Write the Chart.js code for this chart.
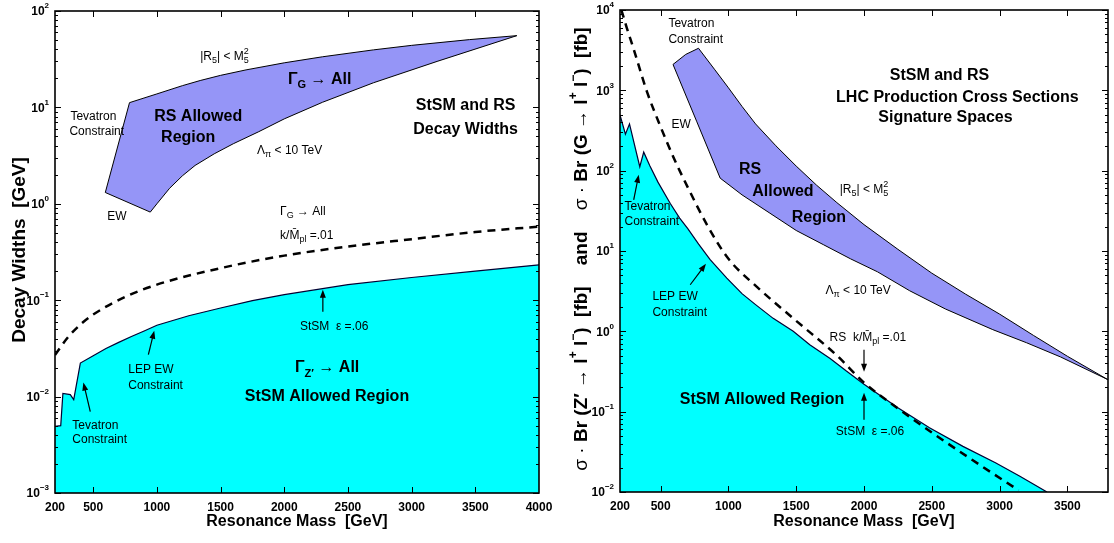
<!DOCTYPE html>
<html>
<head>
<meta charset="utf-8">
<script src="https://cdn.jsdelivr.net/npm/chart.js@4.4.1/dist/chart.umd.min.js"></script>
<style>
    html, body { margin: 0; padding: 0; background: #fff; }
    #wrap { position: relative; width: 1114px; height: 543px; }
    .panel { position: absolute; top: 0; }
</style>
</head>
<body>
<div id="wrap">
    <canvas id="widthChart" class="panel" style="left:0" width="557" height="543"></canvas>
    <canvas id="xsecChart" class="panel" style="left:557px" width="557" height="543"></canvas>
</div>
<script>
// ---- left panel: decay widths ----
const widthTicksX = [200, 500, 1000, 1500, 2000, 2500, 3000, 3500, 4000];
const widthDecades = [-3, -2, -1, 0, 1, 2];

// StSM Z' width, eps = .06 (upper edge of the cyan region)
const stsmWidthMass = [200, 245, 262, 320, 347, 399, 500, 600, 700, 800, 900, 1000, 1250, 1500, 1750, 2000, 2500, 3000, 3500, 4000];
const stsmWidth = [0.0049, 0.0050, 0.0108, 0.0105, 0.0093, 0.0223, 0.0265, 0.0315, 0.0365, 0.042, 0.048, 0.055,
    0.069, 0.083, 0.099, 0.114, 0.145, 0.172, 0.2, 0.233];

// RS graviton width, k/Mpl = .01 (dashed)
const rsWidthMass = [200, 300, 400, 500, 750, 1000, 1500, 2000, 2500, 3000, 3500, 4000];
const rsWidth = [0.027, 0.041, 0.056, 0.071, 0.108, 0.145, 0.215, 0.29, 0.36, 0.43, 0.51, 0.58];

// RS allowed region outline (closed): Tevatron edge, |R5| < M5^2 edge, Lambda_pi edge, EW edge
const rsWidthRegionMass = [595, 785, 1000, 1200, 1340, 1500, 1700, 2000, 2300, 2700, 3000, 3455, 3826,
    3200, 2700, 2300, 2000, 1800, 1600, 1450, 1300, 1200, 1100, 1000, 948, 595];
const rsWidthRegion = [1.31, 11.2, 13.8, 16.8, 19.0, 21.5, 24.5, 29, 33.5, 39.5, 44, 50.5, 55.5,
    30, 18, 11.3, 7.6, 5.6, 4.2, 3.3, 2.5, 1.95, 1.45, 1.0, 0.82, 1.31];

// ---- right panel: LHC cross sections ----
const xsecTicksX = [200, 500, 1000, 1500, 2000, 2500, 3000, 3500];
const xsecDecades = [-2, -1, 0, 1, 2, 3, 4];

const stsmXsecMass = [200, 240, 270, 346, 375, 420, 480, 571, 640, 700, 780, 865, 988, 1100, 1200, 1330, 1478,
    1600, 1750, 1870, 2000, 2250, 2483, 2730, 2973, 3150, 3350];
const stsmXsec = [494, 285, 382, 112, 170, 115, 72, 39, 25.7, 19, 12.2, 7.8, 4.6, 2.95, 2.15, 1.45, 1.0,
    0.68, 0.46, 0.32, 0.22, 0.112, 0.063, 0.037, 0.023, 0.0157, 0.0100];

const rsXsecMass = [210, 250, 300, 400, 500, 600, 700, 850, 1000, 1200, 1500, 1800, 2000, 2250, 2500, 2800, 3140];
const rsXsec = [10000, 6000, 3300, 950, 350, 140, 62, 20, 8, 3.7, 1.35, 0.5, 0.23, 0.11, 0.055, 0.025, 0.0105];

const rsXsecRegionMass = [591, 685, 779, 900, 1000, 1100, 1200, 1350, 1500, 1650, 1800, 2000, 2250, 2500, 2750, 3000, 3250, 3500, 3800,
    3450, 3200, 2950, 2600, 2337, 2100, 1900, 1700, 1500, 1300, 1100, 939, 765, 591];
const rsXsecRegion = [2100, 2800, 3340, 1800, 1075, 631, 382, 204, 114, 66, 40, 21.3, 10.5, 5.3, 2.9, 1.64, 0.89, 0.49, 0.25,
    0.48, 0.72, 1.05, 1.9, 3.2, 5.5, 8, 12, 18, 30, 50, 80.7, 413, 2100];

const FONT = '"Liberation Sans", Arial, Helvetica, sans-serif';
const NOTE = '12px ' + FONT;
const NOTE_S = '9px ' + FONT;
const BIG = 'bold 16px ' + FONT;
const BIG_S = 'bold 11px ' + FONT;
const TICK = 'bold 12px ' + FONT;
const TICK_S = 'bold 8px ' + FONT;
const X_TITLE = 'bold 16px ' + FONT;
const Y_TITLE = 'bold 19px ' + FONT;
const Y_TITLE_N = '19px ' + FONT;
const Y_TITLE_S = 'bold 12px ' + FONT;

const CYAN = '#00ffff';
const LAVENDER = '#9595f7';

function pts(xs, ys) {
    return xs.map((x, i) => ({ x: x, y: ys[i] }));
}

// draw a run of text pieces: [text, font, dy, noAdvance]
function drawRich(ctx, parts, x, y, align) {
    let w = 0;
    parts.forEach(p => {
        if (!p[3]) { ctx.font = p[1]; w += ctx.measureText(p[0]).width; }
    });
    let cx = align === 'center' ? x - w / 2 : align === 'right' ? x - w : x;
    parts.forEach(p => {
        ctx.font = p[1];
        ctx.fillText(p[0], cx, y + (p[2] || 0));
        if (!p[3]) cx += ctx.measureText(p[0]).width;
    });
}

function drawArrow(ctx, x1, y1, x2, y2) {
    const ang = Math.atan2(y2 - y1, x2 - x1);
    ctx.beginPath();
    ctx.moveTo(x1, y1);
    ctx.lineTo(x2 - 5 * Math.cos(ang), y2 - 5 * Math.sin(ang));
    ctx.lineWidth = 1.2;
    ctx.stroke();
    ctx.beginPath();
    ctx.moveTo(x2, y2);
    ctx.lineTo(x2 - 8 * Math.cos(ang) + 3 * Math.sin(ang), y2 - 8 * Math.sin(ang) - 3 * Math.cos(ang));
    ctx.lineTo(x2 - 8 * Math.cos(ang) - 3 * Math.sin(ang), y2 - 8 * Math.sin(ang) + 3 * Math.cos(ang));
    ctx.closePath();
    ctx.fill();
}

// frame with inward ticks, tick labels, titles and notes
const paperFrame = {
    id: 'paperFrame',
    afterDraw(chart, args, opts) {
        const ctx = chart.ctx;
        const a = chart.chartArea;
        const xs = chart.scales.x;
        const ys = chart.scales.y;
        ctx.save();
        ctx.strokeStyle = '#000';
        ctx.fillStyle = '#000';
        ctx.textAlign = 'left';
        ctx.textBaseline = 'middle';

        ctx.lineWidth = 1;
        ctx.beginPath();
        opts.xTicks.forEach(v => {
            if (v <= xs.min || v >= xs.max) return;
            const px = Math.round(xs.getPixelForValue(v)) + 0.5;
            ctx.moveTo(px, a.bottom); ctx.lineTo(px, a.bottom - 6);
            ctx.moveTo(px, a.top); ctx.lineTo(px, a.top + 6);
        });
        opts.decades.forEach(e => {
            for (let m = 1; m < 10; m++) {
                const v = m * Math.pow(10, e);
                if (v <= ys.min * 0.999 || v >= ys.max * 1.001) continue;
                const py = Math.round(ys.getPixelForValue(v)) + 0.5;
                const len = m === 1 ? 6 : 3;
                ctx.moveTo(a.left, py); ctx.lineTo(a.left + len, py);
                ctx.moveTo(a.right, py); ctx.lineTo(a.right - len, py);
            }
        });
        ctx.stroke();

        ctx.lineWidth = 1.6;
        ctx.strokeRect(a.left, a.top, a.right - a.left, a.bottom - a.top);

        // tick labels
        opts.xTicks.forEach(v => {
            drawRich(ctx, [[String(v), TICK]], xs.getPixelForValue(v), a.bottom + 15, 'center');
        });
        opts.decades.forEach(e => {
            const py = ys.getPixelForValue(Math.pow(10, e));
            drawRich(ctx, [['10', TICK], [String(e).replace('-', '\u2212'), TICK_S, -6]], a.left - 6, py + 1, 'right');
        });

        // axis titles
        drawRich(ctx, [['Resonance Mass  [GeV]', X_TITLE]], (a.left + a.right) / 2, 522, 'center');
        ctx.save();
        ctx.translate(opts.yTitleX, opts.yTitleY);
        ctx.rotate(-Math.PI / 2);
        drawRich(ctx, opts.yTitle, 0, 0, 'center');
        ctx.restore();

        // notes and arrows, placed in data coordinates
        opts.notes.forEach(n => {
            drawRich(ctx, n.parts, xs.getPixelForValue(n.x), ys.getPixelForValue(n.y), n.align || 'left');
        });
        opts.arrows.forEach(r => {
            drawArrow(ctx, xs.getPixelForValue(r[0]), ys.getPixelForValue(r[1]),
                xs.getPixelForValue(r[2]), ys.getPixelForValue(r[3]));
        });
        ctx.restore();
    }
};

function baseOptions(xMin, xMax, yMin, yMax, yWidth, xHeight, padding, frame) {
    return {
        responsive: false,
        animation: false,
        events: [],
        layout: { padding: padding },
        elements: { point: { radius: 0 }, line: { tension: 0 } },
        plugins: {
            legend: { display: false },
            tooltip: { enabled: false },
            paperFrame: frame
        },
        scales: {
            x: {
                type: 'linear', min: xMin, max: xMax,
                ticks: { display: false },
                grid: { display: false, drawTicks: false },
                border: { display: false },
                afterFit: s => { s.height = xHeight; }
            },
            y: {
                type: 'logarithmic', min: yMin, max: yMax,
                ticks: { display: false },
                grid: { display: false, drawTicks: false },
                border: { display: false },
                afterFit: s => { s.width = yWidth; }
            }
        }
    };
}

function createWidthChart() {
    const notes = [
        { x: 1340, y: 33.4, parts: [['|R', NOTE], ['5', NOTE_S, 4], ['| < M', NOTE], ['2', NOTE_S, -5, true], ['5', NOTE_S, 4]] },
        { x: 2029, y: 19.3, parts: [['\u0393', BIG], ['G', BIG_S, 5], [' \u2192 All', BIG]] },
        { x: 321, y: 7.97, parts: [['Tevatron', NOTE]] },
        { x: 313, y: 5.57, parts: [['Constraint', NOTE]] },
        { x: 1324, y: 7.97, parts: [['RS Allowed', BIG]], align: 'center' },
        { x: 1246, y: 4.83, parts: [['Region', BIG]], align: 'center' },
        { x: 3424, y: 10.4, parts: [['StSM and RS', BIG]], align: 'center' },
        { x: 3424, y: 5.85, parts: [['Decay Widths', BIG]], align: 'center' },
        { x: 1786, y: 3.54, parts: [['\u039B', NOTE], ['\u03C0', NOTE_S, 4], [' < 10 TeV', NOTE]] },
        { x: 611, y: 0.733, parts: [['EW', NOTE]] },
        { x: 1967, y: 0.826, parts: [['\u0393', NOTE], ['G', NOTE_S, 4], [' \u2192 All', NOTE]] },
        { x: 1967, y: 0.466, parts: [['k/M\u0304', NOTE], ['pl', NOTE_S, 4], [' =.01', NOTE]] },
        { x: 2123, y: 0.0531, parts: [['StSM  \u03B5 =.06', NOTE]] },
        { x: 2084, y: 0.020, parts: [['\u0393', BIG], ['Z\u2032', BIG_S, 6], [' \u2192 All', BIG]] },
        { x: 2335, y: 0.01, parts: [['StSM Allowed Region', BIG]], align: 'center' },
        { x: 775, y: 0.019, parts: [['LEP EW', NOTE]] },
        { x: 775, y: 0.013, parts: [['Constraint', NOTE]] },
        { x: 336, y: 0.0050, parts: [['Tevatron', NOTE]] },
        { x: 336, y: 0.00358, parts: [['Constraint', NOTE]] }
    ];
    const arrows = [
        [2303, 0.076, 2303, 0.1285],
        [933, 0.0272, 979, 0.0483],
        [477, 0.0070, 423, 0.01397]
    ];
    const frame = {
        xTicks: widthTicksX, decades: widthDecades, notes: notes, arrows: arrows,
        yTitleX: 20, yTitleY: 250,
        yTitle: [['Decay Widths  [GeV]', Y_TITLE]]
    };
    window.widthChart = new Chart(document.getElementById('widthChart'), {
        type: 'line',
        data: {
            datasets: [
                {
                    label: 'RS k/Mpl = .01',
                    data: pts(rsWidthMass, rsWidth),
                    borderColor: '#000',
                    borderWidth: 2.5,
                    borderDash: [8, 6],
                    cubicInterpolationMode: 'monotone',
                    fill: false
                },
                {
                    label: 'RS Allowed Region',
                    data: pts(rsWidthRegionMass, rsWidthRegion),
                    borderColor: '#000',
                    borderWidth: 1,
                    backgroundColor: LAVENDER,
                    fill: 'shape'
                },
                {
                    label: 'StSM Allowed Region',
                    data: pts(stsmWidthMass, stsmWidth),
                    borderColor: '#000033',
                    borderWidth: 1.2,
                    backgroundColor: CYAN,
                    fill: 'start'
                }
            ]
        },
        options: baseOptions(200, 4000, 1e-3, 1e2, 55, 50, { left: 0, right: 18, top: 11, bottom: 0 }, frame),
        plugins: [paperFrame]
    });
}

function createXsecChart() {
    const notes = [
        { x: 557, y: 6700, parts: [['Tevatron', NOTE]] },
        { x: 557, y: 4236, parts: [['Constraint', NOTE]] },
        { x: 579, y: 371, parts: [['EW', NOTE]] },
        { x: 1160, y: 102, parts: [['RS', BIG]], align: 'center' },
        { x: 1402, y: 54.5, parts: [['Allowed', BIG]], align: 'center' },
        { x: 1667, y: 25.9, parts: [['Region', BIG]], align: 'center' },
        { x: 2557, y: 1510, parts: [['StSM and RS', BIG]], align: 'center' },
        { x: 2689, y: 804, parts: [['LHC Production Cross Sections', BIG]], align: 'center' },
        { x: 2601, y: 454, parts: [['Signature Spaces', BIG]], align: 'center' },
        { x: 1821, y: 57.7, parts: [['|R', NOTE], ['5', NOTE_S, 4], ['| < M', NOTE], ['2', NOTE_S, -5, true], ['5', NOTE_S, 4]] },
        { x: 1716, y: 3.2, parts: [['\u039B', NOTE], ['\u03C0', NOTE_S, 4], [' < 10 TeV', NOTE]] },
        { x: 1746, y: 0.832, parts: [['RS  k/M\u0304', NOTE], ['pl', NOTE_S, 4], [' =.01', NOTE]] },
        { x: 1792, y: 0.0564, parts: [['StSM  \u03B5 =.06', NOTE]] },
        { x: 1248, y: 0.141, parts: [['StSM Allowed Region', BIG]], align: 'center' },
        { x: 439, y: 2.69, parts: [['LEP EW', NOTE]] },
        { x: 439, y: 1.70, parts: [['Constraint', NOTE]] },
        { x: 233, y: 35.5, parts: [['Tevatron', NOTE]] },
        { x: 233, y: 23.1, parts: [['Constraint', NOTE]] }
    ];
    const arrows = [
        [2000, 0.59, 2000, 0.315],
        [2000, 0.0794, 2000, 0.172],
        [718, 3.8, 834, 6.93],
        [301, 43.4, 338, 88.7]
    ];
    const sup = -8;
    const frame = {
        xTicks: xsecTicksX, decades: xsecDecades, notes: notes, arrows: arrows,
        yTitleX: 25, yTitleY: 249,
        yTitle: [
            ['\u03C3 \u00B7 ', Y_TITLE_N], ['Br (Z\u2032 \u2192 l', Y_TITLE], ['+', Y_TITLE_S, sup], [' l', Y_TITLE], ['\u2212', Y_TITLE_S, sup],
            [')  [fb]', Y_TITLE], ['    and    ', Y_TITLE],
            ['\u03C3 \u00B7 ', Y_TITLE_N], ['Br (G \u2192 l', Y_TITLE], ['+', Y_TITLE_S, sup], [' l', Y_TITLE], ['\u2212', Y_TITLE_S, sup],
            [')  [fb]', Y_TITLE]
        ]
    };
    window.xsecChart = new Chart(document.getElementById('xsecChart'), {
        type: 'line',
        data: {
            datasets: [
                {
                    label: 'RS k/Mpl = .01',
                    data: pts(rsXsecMass, rsXsec),
                    borderColor: '#000',
                    borderWidth: 2.5,
                    borderDash: [8, 6],
                    cubicInterpolationMode: 'monotone',
                    fill: false
                },
                {
                    label: 'RS Allowed Region',
                    data: pts(rsXsecRegionMass, rsXsecRegion),
                    borderColor: '#000',
                    borderWidth: 1,
                    backgroundColor: LAVENDER,
                    fill: 'shape'
                },
                {
                    label: 'StSM Allowed Region',
                    data: pts(stsmXsecMass, stsmXsec),
                    borderColor: '#000033',
                    borderWidth: 1.2,
                    backgroundColor: CYAN,
                    fill: 'start'
                }
            ]
        },
        options: baseOptions(200, 3800, 1e-2, 1e4, 63, 51, { left: 0, right: 6, top: 10, bottom: 0 }, frame),
        plugins: [paperFrame]
    });
}

createWidthChart();
createXsecChart();
</script>
</body>
</html>
